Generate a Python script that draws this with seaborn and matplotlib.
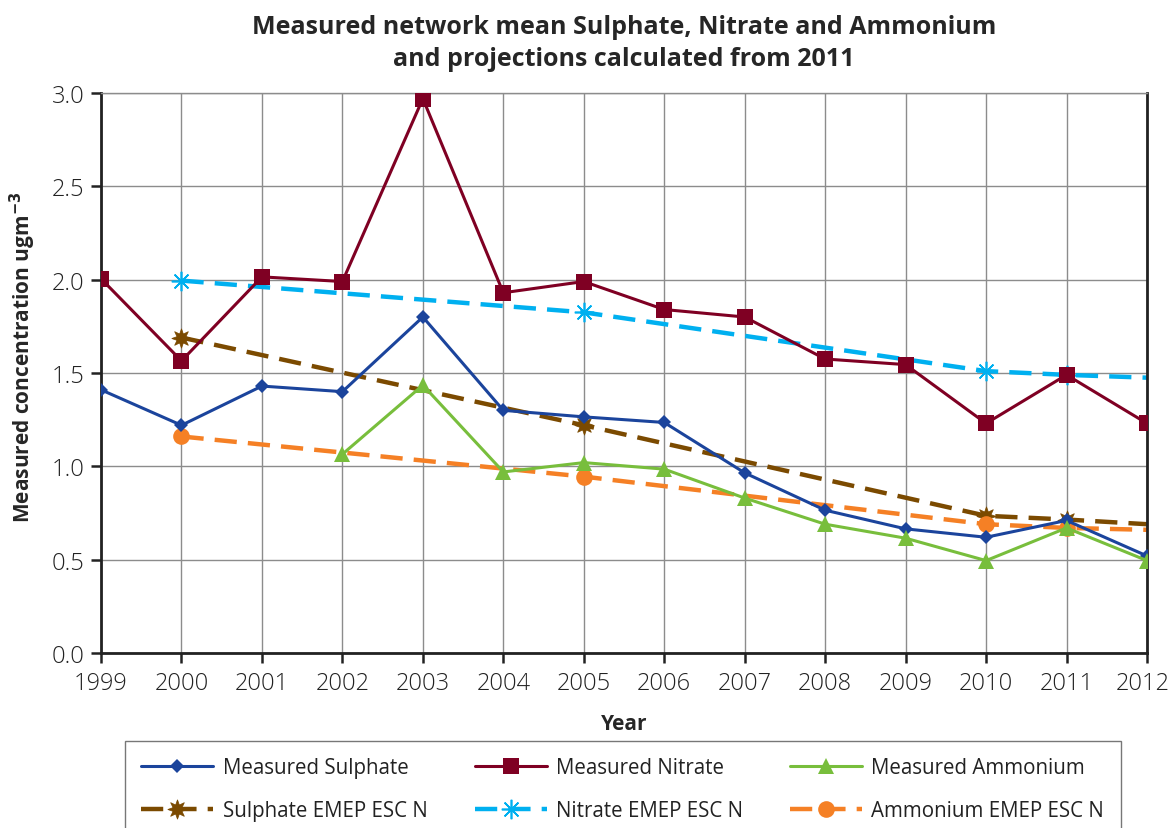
import matplotlib
matplotlib.use("Agg")
import matplotlib.pyplot as plt
import matplotlib.transforms as mtransforms
import seaborn as sns
import numpy as np
from matplotlib.ticker import FormatStrFormatter

years = list(range(1999, 2013))
sulphate = [1.41, 1.22, 1.43, 1.40, 1.80, 1.30, 1.265, 1.235, 0.965, 0.765, 0.665, 0.62, 0.71, 0.52]
nitrate = [2.005, 1.565, 2.015, 1.99, 2.97, 1.93, 1.99, 1.84, 1.80, 1.575, 1.545, 1.23, 1.49, 1.23]
amm_years = list(range(2002, 2013))
ammonium = [1.065, 1.435, 0.97, 1.02, 0.985, 0.83, 0.69, 0.615, 0.495, 0.67, 0.495]

proj_years = [2000, 2005, 2010, 2011, 2012]
sulphate_emep = [1.69, 1.22, 0.735, 0.715, 0.69]
nitrate_emep = [1.995, 1.825, 1.51, 1.49, 1.475]
ammonium_emep = [1.16, 0.945, 0.69, 0.67, 0.66]

labels = ["Measured Sulphate", "Measured Nitrate", "Measured Ammonium",
          "Sulphate EMEP ESC N", "Nitrate EMEP ESC N", "Ammonium EMEP ESC N"]

sns.set_theme(style="white")
plt.rcParams['font.family'] = ['Open Sans', 'DejaVu Sans']

fig = plt.figure(figsize=(11.68, 8.29), dpi=100)
ax = fig.add_axes([0.0865, 0.2111, 0.8955, 0.6755])

dash = (5, 2.5)
# projections (drawn first, behind)
sns.lineplot(x=proj_years, y=sulphate_emep, ax=ax, color="#7B4A00", lw=3.2,
             linestyle=(0, dash), marker=(8, 1, 0), markersize=14, markeredgewidth=0.5,
             markeredgecolor="#7B4A00", markevery=[0, 1, 2, 3], label=labels[3], zorder=2)
sns.lineplot(x=proj_years, y=nitrate_emep, ax=ax, color="#00B0F0", lw=3.2,
             linestyle=(0, dash), marker=(8, 2, 0), markersize=14, markeredgewidth=1.2,
             markeredgecolor="#00B0F0", markevery=[0, 1, 2, 3], label=labels[4], zorder=2)
sns.lineplot(x=proj_years, y=ammonium_emep, ax=ax, color="#F58025", lw=3.2,
             linestyle=(0, dash), marker="o", markersize=12, markeredgewidth=0,
             markevery=[0, 1, 2, 3], label=labels[5], zorder=2)
# measured
sns.lineplot(x=years, y=sulphate, ax=ax, color="#1B449C", lw=2.2, marker="D",
             markersize=7, markeredgewidth=0, label=labels[0], zorder=3)
sns.lineplot(x=years, y=nitrate, ax=ax, color="#7F0023", lw=2.2, marker="s",
             markersize=11, markeredgewidth=0, label=labels[1], zorder=3)
sns.lineplot(x=amm_years, y=ammonium, ax=ax, color="#78BE3C", lw=2.2, marker="^",
             markersize=11, markeredgewidth=0, label=labels[2], zorder=3)

ax.set_xlim(1999, 2012)
ax.set_ylim(0, 3.0)
ax.set_xticks(years)
ax.set_yticks(np.arange(0, 3.01, 0.5))
ax.yaxis.set_major_formatter(FormatStrFormatter('%.1f'))
ax.grid(True, color="#8C8C8C", lw=1.0)
ax.set_axisbelow(True)
for s in ["left", "bottom", "right"]:
    ax.spines[s].set_color("#222222")
    ax.spines[s].set_linewidth(2.0)
ax.spines["top"].set_color("#8C8C8C")
ax.spines["top"].set_linewidth(1.0)
ax.tick_params(axis="both", direction="out", length=7, width=1.8, color="#222222",
               labelsize=17, labelcolor="#222222", left=True, bottom=True)
ax.tick_params(axis="x", pad=6)
ax.tick_params(axis="y", pad=5)
xt = ax.get_xticklabels()
for t in xt + ax.get_yticklabels():
    t.set_fontweight("light")
# nudge the last year label slightly left so it stays inside the figure
last = xt[-1]
last.set_transform(last.get_transform() + mtransforms.ScaledTranslation(-4 / 100, 0, fig.dpi_scale_trans))

ax.set_xlabel("Year", fontsize=15, fontweight="bold", labelpad=13)
ax.set_ylabel(r"Measured concentration ugm$^{\mathbf{-3}}$", fontsize=15, fontweight="bold")
ax.yaxis.set_label_coords(-0.06, 0.53)
ax.set_title("Measured network mean Sulphate, Nitrate and Ammonium\nand projections calculated from 2011",
             fontsize=18, fontweight="bold", pad=20, linespacing=1.4)

handles, labs = ax.get_legend_handles_labels()
ax.get_legend().remove()
col_order = [labels[i] for i in [0, 3, 1, 4, 2, 5]]
hs = [handles[labs.index(l)] for l in col_order]
leg = fig.legend(hs, col_order, ncol=3,
                 loc="upper left", bbox_to_anchor=(125 / 1168, 1 - 742 / 829),
                 fontsize=14.8, frameon=True, fancybox=False, edgecolor="#555555",
                 handlelength=3.5, handletextpad=0.45, labelspacing=1.05, columnspacing=2.3,
                 borderpad=0.8, borderaxespad=0)
leg.get_frame().set_linewidth(1.0)
for t in leg.get_texts():
    t.set_color("#222222")

fig.savefig("out.png", dpi=100)
